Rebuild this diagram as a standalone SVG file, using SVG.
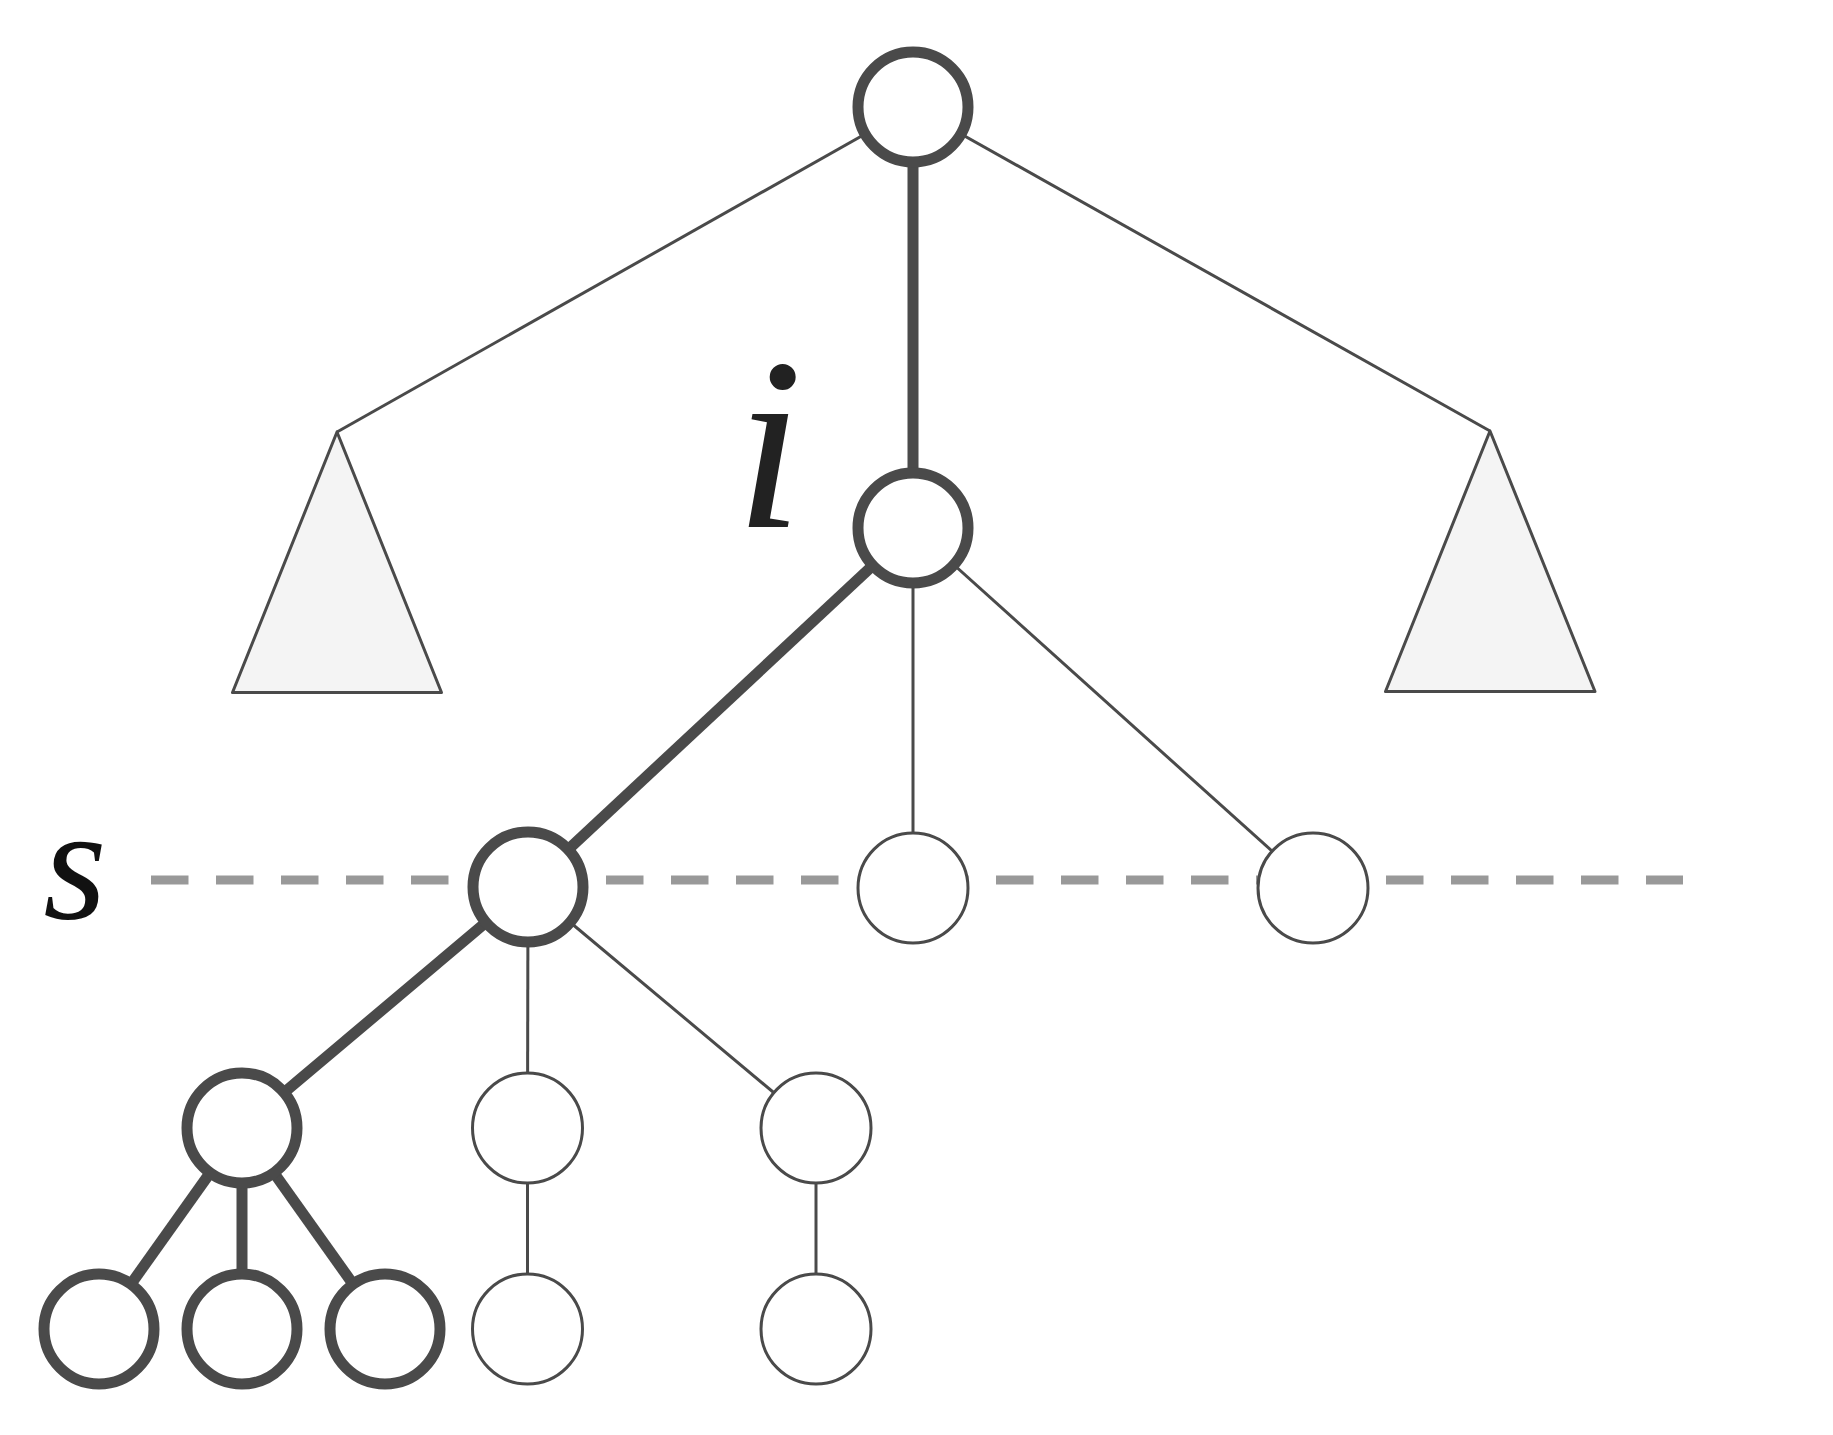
<svg xmlns="http://www.w3.org/2000/svg" width="1833" height="1435" viewBox="0 0 1833 1435">
<style>
.thick{stroke:#4a4a4a;stroke-width:11;fill:none}
.thin{stroke:#4a4a4a;stroke-width:3;fill:none}
.nthick{fill:#fff;stroke:#4a4a4a;stroke-width:11}
.nthin{fill:#fff;stroke:#4a4a4a;stroke-width:3}
.tri{fill:#f4f4f4;stroke:#4a4a4a;stroke-width:3;stroke-linejoin:round}
</style>
<rect width="1833" height="1435" fill="#fff"/>
<line id="level-s" x1="151" y1="880" x2="1683" y2="880" stroke="#999" stroke-width="9" stroke-dasharray="37.5 27.5"/>
<g id="connectors">
<line class="thin" x1="913" y1="107" x2="337" y2="432"/>
<line class="thin" x1="913" y1="107" x2="1490" y2="431"/>
<line class="thick" x1="913" y1="107" x2="913" y2="528"/>
<line class="thick" x1="913" y1="528" x2="528" y2="887"/>
<line class="thin" x1="913" y1="528" x2="913" y2="888"/>
<line class="thin" x1="913" y1="528" x2="1313" y2="888"/>
<line class="thick" x1="528" y1="887" x2="242" y2="1128"/>
<line class="thin" x1="528" y1="887" x2="527.5" y2="1128"/>
<line class="thin" x1="528" y1="887" x2="816" y2="1128"/>
<line class="thick" x1="242" y1="1128" x2="99" y2="1329"/>
<line class="thick" x1="242" y1="1128" x2="242" y2="1329"/>
<line class="thick" x1="242" y1="1128" x2="385" y2="1329"/>
<line class="thin" x1="527.5" y1="1128" x2="527.5" y2="1329"/>
<line class="thin" x1="816" y1="1128" x2="816" y2="1329"/>
</g>
<g id="subtree-left"><polygon class="tri" points="337,432 232.5,692.5 441.5,692.5"/></g>
<g id="subtree-right"><polygon class="tri" points="1490,431 1385.5,691.5 1595,691.5"/></g>
<g id="root"><circle class="nthick" cx="913" cy="107" r="55"/></g>
<g id="node-i"><circle class="nthick" cx="913" cy="528" r="55"/></g>
<g id="s1"><circle class="nthick" cx="528" cy="887" r="55"/></g>
<g id="s2"><circle class="nthin" cx="913" cy="888" r="55"/></g>
<g id="s3"><circle class="nthin" cx="1313" cy="888" r="55"/></g>
<g id="c1"><circle class="nthick" cx="242" cy="1128" r="55"/></g>
<g id="c2"><circle class="nthin" cx="527.5" cy="1128" r="55"/></g>
<g id="c3"><circle class="nthin" cx="816" cy="1128" r="55"/></g>
<g id="g1"><circle class="nthick" cx="99" cy="1329" r="55"/></g>
<g id="g2"><circle class="nthick" cx="242" cy="1329" r="55"/></g>
<g id="g3"><circle class="nthick" cx="385" cy="1329" r="55"/></g>
<g id="g4"><circle class="nthin" cx="527.5" cy="1329" r="55"/></g>
<g id="g5"><circle class="nthin" cx="816" cy="1329" r="55"/></g>
<g id="label-i"><text x="769" y="527" font-family="Liberation Serif, serif" font-style="italic" font-size="245" fill="#222" text-anchor="middle">i</text></g>
<g id="label-s"><text x="75" y="918" font-family="Liberation Serif, serif" font-style="italic" font-size="163" fill="#111" text-anchor="middle">s</text></g>
</svg>
